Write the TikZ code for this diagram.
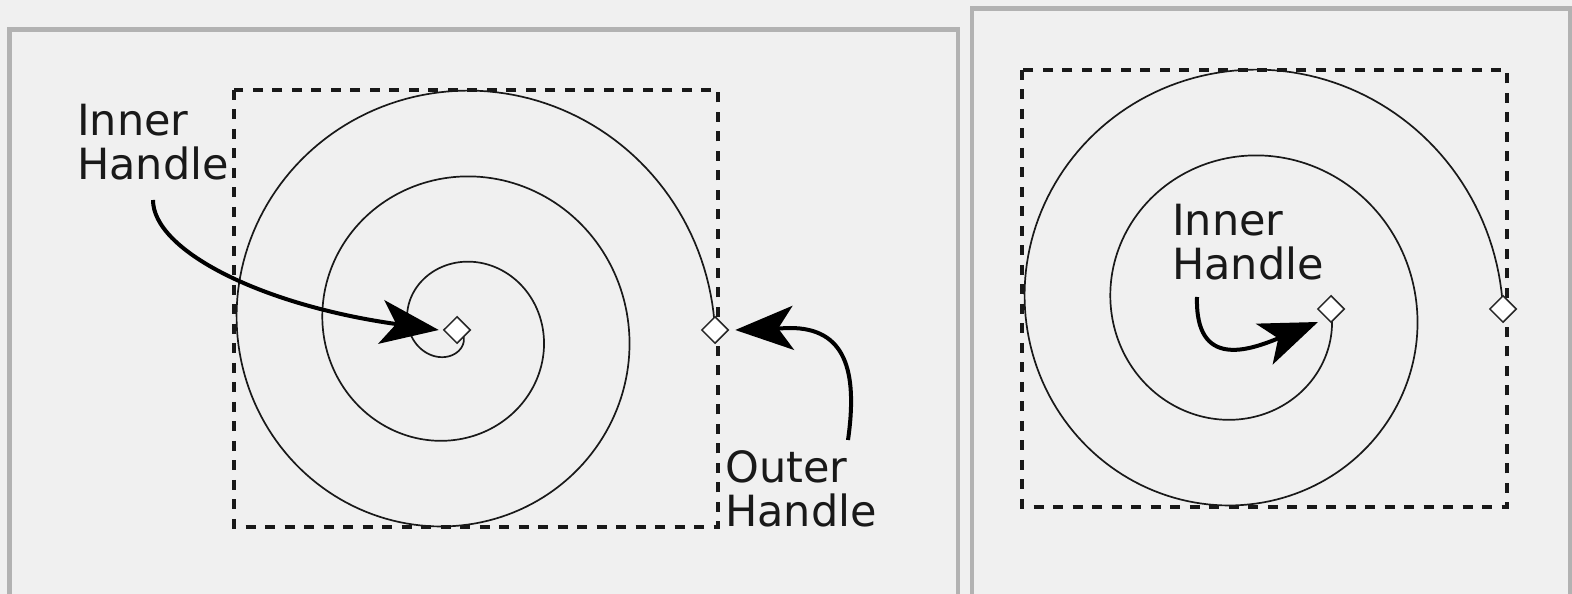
\documentclass[tikz,border=0pt]{standalone}
\usepackage{fontspec}
\setmainfont{DejaVu Sans}
\usetikzlibrary{arrows.meta,shapes.geometric}
\definecolor{bg}{HTML}{F0F0F0}
\definecolor{frame}{HTML}{B2B2B2}
\begin{document}
\begin{tikzpicture}[x=1pt,y=1pt,
  panel/.style={draw=frame, line width=4.5pt},
  bbox/.style={draw=black!90, line width=4pt, dash pattern=on 10pt off 9.5pt},
  spiral/.style={draw=black!90, line width=1.7pt},
  handle/.style={shape=diamond, draw=black!85, fill=white, line width=1.5pt, minimum width=27pt, minimum height=27pt, inner sep=0pt},
  lbl/.style={font=\fontsize{43}{44}\selectfont, align=left, inner sep=0pt, anchor=base west, text=black!90},
  pointer/.style={draw=black, line width=4pt, -{Stealth[length=58pt,width=44pt,inset=15pt]}}]
\useasboundingbox (0,0) rectangle (1572,594);
\fill[bg] (0,0) rectangle (1572,594);
\begin{scope}
\clip (0,0) rectangle (1572,594);
\draw[panel] (9.5,-20) rectangle (958,564.5);
\draw[panel] (972,-20) rectangle (1570,585.5);
\end{scope}
% left panel
\draw[bbox] (234,504) rectangle (718,67);
\draw[spiral] plot[domain=0:1080, samples=541] ({454.5+(260.5-0.238889*\x)*cos(\x)}, {264+(260.5-0.238889*\x)*sin(\x)});
\node[handle] (oh1) at (715,264) {};
\node[handle] (ih1) at (457,264) {};
\node[lbl] (t1) at (77,414) {Inner\\Handle};
\node[lbl] (t2) at (725,67) {Outer\\Handle};
\coordinate (s1) at (153,394);
\coordinate (s2) at (848,154);
\draw[pointer] (s1) .. controls (153,344) and (260,289) .. ([xshift=-4pt]ih1.west);
\draw[pointer] (s2) .. controls (858,224) and (845,266) .. (790,266) -- ([xshift=6pt]oh1.east);
% right panel
\draw[bbox] (1022,524) rectangle (1507,87);
\draw[spiral] plot[domain=0:720, samples=361] ({1242.5+(260.5-0.238889*\x)*cos(\x)}, {285+(260.5-0.238889*\x)*sin(\x)});
\node[handle] (oh2) at (1503,285) {};
\node[handle] (ih2) at (1331,285) {};
\node[lbl] (t3) at (1172,314) {Inner\\Handle};
\coordinate (s3) at (1197,297);
\draw[pointer] (s3) .. controls (1195,224) and (1250,244) .. ([shift={(-13pt,-13pt)}]ih2.center);
\end{tikzpicture}
\end{document}
